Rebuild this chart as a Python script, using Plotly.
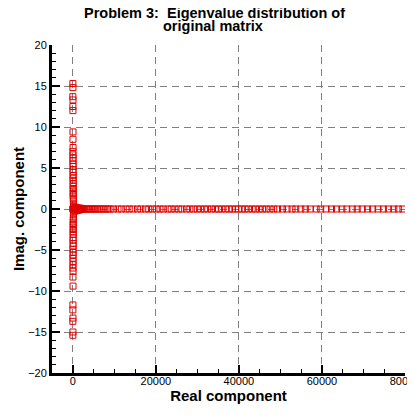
import plotly.graph_objects as go

# eigenvalues lying (almost) on the imaginary axis, conjugate pairs
imag_upper = [15.3, 14.8, 13.7, 13.3, 12.5, 12.0, 9.4, 8.5, 7.5, 7.0, 6.6, 6.2,
              5.9, 5.5, 5.2, 4.8, 4.5, 4.1, 3.8, 3.5, 3.1, 2.8, 2.5, 2.2, 1.9,
              1.6, 1.3, 1.0, 0.7, 0.4]
imag_lower = [-15.4, -15.0, -13.7, -13.3, -12.3, -11.7, -9.4, -8.3, -7.6, -7.2,
              -6.8, -6.4, -6.0, -5.6, -5.3, -4.9, -4.5, -4.2, -3.8, -3.5, -3.1,
              -2.8, -2.5, -2.2, -1.9, -1.6, -1.3, -1.0, -0.7, -0.4]
real_upper = [30, 40, 20, 50, 30, 40, 60, 50, 70, 40, 60, 80, 50, 70, 90, 60,
              80, 100, 70, 90, 110, 80, 100, 120, 90, 110, 130, 150, 170, 200]
real_lower = real_upper

# small cluster right at the origin
cluster_real = [300, 700, 1100, 1500, 1900, 2300, 500, 900, 1300, 1700, 2100]
cluster_imag = [0.25, 0.2, 0.15, 0.1, 0.1, 0.05, -0.25, -0.2, -0.15, -0.1, -0.05]

# eigenvalues on the real axis
real_axis = [0, 100, 250, 400, 600, 800, 1000, 1300, 1600, 2000, 2400, 2800,
             3200, 3600, 4000, 4400, 4800, 5200, 5600, 6000, 6500, 7000, 7500,
             8000, 8500, 9000, 9800, 10900, 11700, 12800, 13600, 14500, 15600,
             16400, 17500, 18300, 19200, 20100, 21000, 21800, 22900, 23700,
             24600, 25500, 26300, 27400, 28200, 29100, 30000, 30800, 31700,
             32500, 33400, 34300, 35100, 35900, 36800, 37600, 38400, 39200,
             39900, 40700, 41500, 42300, 43200, 44000, 44900, 45700, 46600,
             47500, 48400, 49300, 50500, 51600, 52800, 53700, 54900, 56000,
             57200, 58600, 59700, 61000, 62300, 63500, 64800, 66000, 67300,
             68500, 69700, 71000, 72200, 73500, 74800, 76000, 77300, 78400,
             79500]
imag_axis = [0] * len(real_axis)

title_lines = ["Problem 3:&nbsp; Eigenvalue distribution of", "original matrix"]

x_vals = real_upper + real_lower + cluster_real + real_axis
y_vals = imag_upper + imag_lower + cluster_imag + imag_axis

font_family = "Liberation Sans, Arial, sans-serif"

fig = go.Figure()
fig.add_trace(go.Scatter(
    x=x_vals, y=y_vals, mode="markers",
    marker=dict(symbol="square-open", size=6, color="#e00000",
                line=dict(width=1, color="#e00000")),
    showlegend=False,
))

axis_common = dict(
    showline=True, linecolor="black", linewidth=3, mirror=False,
    ticks="inside", ticklen=8, tickwidth=2, tickcolor="black",
    showgrid=True, gridcolor="#808080", gridwidth=1, griddash="7px,5px",
    zeroline=False, automargin=False, ticklabeloverflow="allow",
    tickfont=dict(family=font_family, size=11, color="black"),
)

fig.update_xaxes(
    range=[-5000, 80000], tick0=0, dtick=20000, tickformat="d",
    ticklabelstandoff=-4,
    minor=dict(ticks="inside", ticklen=4, tickwidth=1, tickcolor="black",
               dtick=5000, tick0=0, showgrid=False),
    title=dict(text="<b>Real component</b>", standoff=0,
               font=dict(family=font_family, size=15, color="black")),
    **axis_common,
)
fig.update_yaxes(
    range=[-20, 20], tick0=-20, dtick=5,
    minor=dict(ticks="inside", ticklen=4, tickwidth=1, tickcolor="black",
               dtick=1, tick0=0, showgrid=False),
    title=dict(text="<b>Imag. component</b>", standoff=0,
               font=dict(family=font_family, size=15, color="black")),
    **axis_common,
)

# two-line title, tight line spacing like the original
for text, xp, yp in zip(title_lines, [0.459, 0.456], [1.0985, 1.0575]):
    fig.add_annotation(
        text="<b>" + text + "</b>", xref="paper", yref="paper",
        x=xp, y=yp, xanchor="center", yanchor="middle", showarrow=False,
        font=dict(family=font_family, size=14.5, color="black"),
    )

# page body has an 8px margin, so the figure is shifted by that amount
fig.update_layout(
    width=407, height=409,
    margin=dict(l=44, r=10, t=37, b=44),
    paper_bgcolor="white", plot_bgcolor="white",
    font=dict(family=font_family, color="black"),
)

fig.write_html("out.html")
